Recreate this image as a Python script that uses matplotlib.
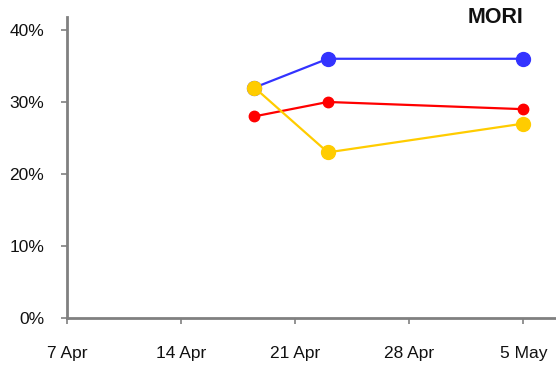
import datetime as dt
import matplotlib
matplotlib.use("Agg")
import matplotlib.pyplot as plt
from matplotlib.ticker import FuncFormatter

plt.rcParams['font.family'] = ['Liberation Sans', 'DejaVu Sans']

# Fieldwork dates (midpoints) and poll shares in percent
dates = [dt.datetime(2010, 4, 18, 12), dt.datetime(2010, 4, 23), dt.datetime(2010, 5, 5)]
blue = [32, 36, 36]
red = [28, 30, 29]
yellow = [32, 23, 27]

tick_dates = [dt.datetime(2010, 4, 7), dt.datetime(2010, 4, 14), dt.datetime(2010, 4, 21),
              dt.datetime(2010, 4, 28), dt.datetime(2010, 5, 5)]
tick_labels = ["7 Apr", "14 Apr", "21 Apr", "28 Apr", "5 May"]
y_ticks = [0, 10, 20, 30, 40]

fig = plt.figure(figsize=(5.56, 3.65), dpi=100)
ax = fig.add_axes([67/556, 47/365, 489/556, 301/365])

ax.plot(dates, blue, color="#3333FF", lw=1.6, marker="o", ms=10, zorder=3)
ax.plot(dates, red, color="#FF0000", lw=1.6, marker="o", ms=7.5, zorder=4)
ax.plot(dates, yellow, color="#FFCC00", lw=1.6, marker="o", ms=10, zorder=5)

ax.set_xlim(dt.datetime(2010, 4, 7), dt.datetime(2010, 5, 7))
ax.set_ylim(0, 41.8)
ax.set_xticks(tick_dates)
ax.set_xticklabels(tick_labels)
ax.set_yticks(y_ticks)
ax.yaxis.set_major_formatter(FuncFormatter(lambda v, p: f"{v:.0f}%"))

for side in ("top", "right"):
    ax.spines[side].set_visible(False)
for side in ("left", "bottom"):
    ax.spines[side].set_color("#808080")
    ax.spines[side].set_linewidth(2)

ax.tick_params(axis="y", direction="out", length=4.5, width=1.2, color="#808080",
               pad=12, labelsize=12.5, labelcolor="#111111")
ax.tick_params(axis="x", direction="out", length=4.5, width=1.2, color="#808080",
               pad=15.5, labelsize=12.5, labelcolor="#111111")

fig.text(523/556, 1 - 7/365, "MORI", ha="right", va="top", fontsize=15.5,
         fontweight="bold", color="#111111")

fig.savefig("out.png", dpi=100)
